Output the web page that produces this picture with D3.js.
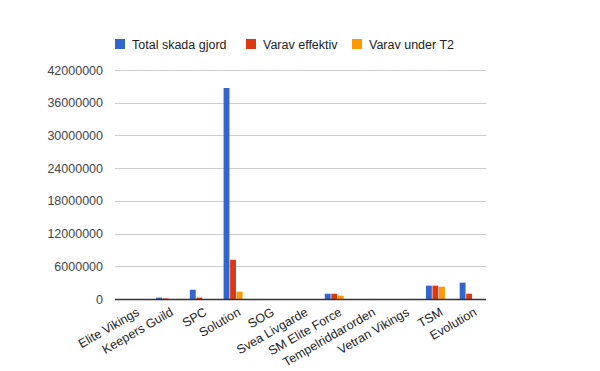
<!DOCTYPE html>
<html>
<head>
<meta charset="utf-8">
<script src="https://cdn.jsdelivr.net/npm/d3@7"></script>
<style>
  body { margin: 0; background: #fff; }
  text { font-family: Arial, "Liberation Sans", sans-serif; }
</style>
</head>
<body>
<div class="canvas"></div>
<script>
// chart data
const teams = ['Elite Vikings', 'Keepers Guild', 'SPC', 'Solution', 'SOG', 'Svea Livgarde',
    'SM Elite Force', 'Tempelriddarorden', 'Vetran Vikings', 'TSM', 'Evolution'];
const seriesNames = ['Total skada gjord', 'Varav effektiv', 'Varav under T2'];
const totalDamage = [0, 250000, 1700000, 38700000, 0, 0, 970000, 0, 0, 2450000, 3000000];
const effective = [0, 100000, 250000, 7200000, 0, 0, 970000, 0, 0, 2450000, 970000];
const underT2 = [0, 0, 0, 1350000, 0, 0, 600000, 0, 0, 2250000, 0];
const yTicks = [0, 6000000, 12000000, 18000000, 24000000, 30000000, 36000000, 42000000];
const colors = ['#3366cc', '#dc3912', '#ff9900'];

// dimensions of the chart
const dims = { width: 600, height: 371 };
const plot = { left: 115, right: 486, top: 70, bottom: 299 };

const svg = d3.select('.canvas')
    .append('svg')
    .attr('width', dims.width)
    .attr('height', dims.height);

// scales
const x = d3.scaleBand()
    .domain(teams)
    .range([plot.left, plot.right])
    .paddingInner(0.4)
    .paddingOuter(0.2);

const xSub = d3.scaleBand()
    .domain(seriesNames)
    .range([0, x.bandwidth()])
    .padding(0.1);

const y = d3.scaleLinear()
    .domain([0, 42000000])
    .range([plot.bottom, plot.top]);

// gridlines
svg.append('g')
    .selectAll('line')
    .data(yTicks.slice(1))
    .enter().append('line')
    .attr('x1', plot.left)
    .attr('x2', plot.right)
    .attr('y1', d => Math.round(y(d)) + 0.5)
    .attr('y2', d => Math.round(y(d)) + 0.5)
    .attr('stroke', '#cccccc');

// y axis labels
const yAxis = d3.axisLeft(y)
    .tickValues(yTicks)
    .tickFormat(d3.format('d'))
    .tickSize(0)
    .tickPadding(12);

svg.append('g')
    .attr('transform', `translate(${plot.left}, 0)`)
    .call(yAxis)
    .call(g => g.select('.domain').remove())
    .selectAll('text')
    .attr('fill', '#444')
    .style('font-size', '12.5px');

// bars, one group per team
const rows = teams.map((t, i) => ({
    team: t,
    values: [totalDamage[i], effective[i], underT2[i]]
}));

const groups = svg.append('g')
    .selectAll('g')
    .data(rows)
    .enter().append('g')
    .attr('transform', d => `translate(${x(d.team)}, 0)`);

groups.selectAll('rect')
    .data(d => d.values.map((v, j) => ({ name: seriesNames[j], value: v, c: colors[j] })))
    .enter().append('rect')
    .attr('x', d => xSub(d.name))
    .attr('width', xSub.bandwidth())
    .attr('y', d => y(d.value))
    .attr('height', d => plot.bottom - y(d.value))
    .attr('fill', d => d.c);

// baseline
svg.append('line')
    .attr('x1', plot.left)
    .attr('x2', plot.right)
    .attr('y1', plot.bottom + 0.5)
    .attr('y2', plot.bottom + 0.5)
    .attr('stroke', '#333')
    .attr('stroke-width', 1.5);

// rotated category labels
svg.append('g')
    .selectAll('text')
    .data(teams)
    .enter().append('text')
    .attr('transform', d => `translate(${x(d) + x.bandwidth() / 2 + 4}, ${plot.bottom + 8}) rotate(-30)`)
    .attr('text-anchor', 'end')
    .attr('dy', '0.7em')
    .attr('fill', '#222')
    .style('font-size', '12.5px')
    .text(d => d);

// legend
const legendX = [115, 246, 352];
const legend = svg.append('g')
    .selectAll('g')
    .data(seriesNames)
    .enter().append('g')
    .attr('transform', (d, i) => `translate(${legendX[i]}, 39)`);

legend.append('rect')
    .attr('width', 10)
    .attr('height', 10)
    .attr('fill', (d, i) => colors[i]);

legend.append('text')
    .attr('x', 17)
    .attr('y', 9.5)
    .attr('fill', '#222')
    .style('font-size', '12.5px')
    .text(d => d);
</script>
</body>
</html>
